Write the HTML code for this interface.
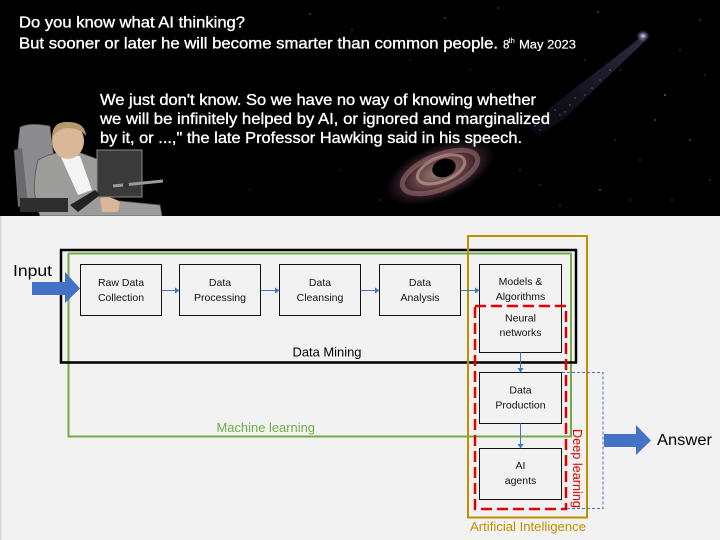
<!DOCTYPE html>
<html><head><meta charset="utf-8"><style>
html,body{margin:0;padding:0;background:#f2f2f2;}
svg{display:block;}
text{font-family:"Liberation Sans",sans-serif;}
</style></head><body>
<svg width="720" height="540" viewBox="0 0 720 540" xmlns="http://www.w3.org/2000/svg">
<defs>
<radialGradient id="glow" cx="50%" cy="50%" r="50%">
<stop offset="0" stop-color="#f0c8c0" stop-opacity="0.9"/>
<stop offset="0.45" stop-color="#c8858a" stop-opacity="0.65"/>
<stop offset="0.8" stop-color="#7a4a66" stop-opacity="0.3"/>
<stop offset="1" stop-color="#30203a" stop-opacity="0"/>
</radialGradient>
<radialGradient id="gal" cx="50%" cy="50%" r="50%">
<stop offset="0" stop-color="#e8e0ff"/>
<stop offset="1" stop-color="#6a5a9a" stop-opacity="0"/>
</radialGradient>
<linearGradient id="streak" x1="1" y1="0" x2="0" y2="1">
<stop offset="0" stop-color="#8a7ab8" stop-opacity="0.35"/>
<stop offset="1" stop-color="#5a4a8a" stop-opacity="0.1"/>
</linearGradient>
</defs>

<!-- top dark panel -->
<rect x="0" y="0" width="720" height="216" fill="#000"/>
<!-- stars -->
<g fill="#fff">
<circle cx="310" cy="14" r="0.7" opacity="0.5"/><circle cx="352" cy="30" r="0.6" opacity="0.4"/>
<circle cx="445" cy="18" r="0.7" opacity="0.5"/><circle cx="498" cy="8" r="0.6" opacity="0.5"/>
<circle cx="598" cy="12" r="0.7" opacity="0.5"/><circle cx="620" cy="70" r="0.6" opacity="0.4"/>
<circle cx="665" cy="95" r="0.8" opacity="0.6"/><circle cx="700" cy="20" r="0.6" opacity="0.5"/>
<circle cx="690" cy="140" r="0.7" opacity="0.5"/><circle cx="640" cy="160" r="0.6" opacity="0.4"/>
<circle cx="600" cy="190" r="0.7" opacity="0.5"/><circle cx="560" cy="205" r="0.6" opacity="0.4"/>
<circle cx="710" cy="180" r="0.6" opacity="0.5"/><circle cx="672" cy="200" r="0.6" opacity="0.4"/>
<circle cx="520" cy="170" r="0.6" opacity="0.4"/><circle cx="380" cy="200" r="0.6" opacity="0.4"/>
<circle cx="340" cy="170" r="0.6" opacity="0.35"/><circle cx="250" cy="190" r="0.6" opacity="0.35"/>
<circle cx="585" cy="60" r="0.6" opacity="0.4"/><circle cx="548" cy="40" r="0.6" opacity="0.4"/>
<circle cx="655" cy="120" r="0.7" opacity="0.5"/><circle cx="705" cy="75" r="0.6" opacity="0.4"/>
<circle cx="410" cy="60" r="0.6" opacity="0.35"/><circle cx="470" cy="70" r="0.6" opacity="0.35"/>
<circle cx="615" cy="140" r="0.6" opacity="0.4"/><circle cx="540" cy="185" r="0.6" opacity="0.4"/>
<circle cx="680" cy="50" r="0.6" opacity="0.4"/><circle cx="630" cy="200" r="0.6" opacity="0.4"/>
</g>
<!-- galaxy streak -->
<polygon points="640,38 646,40 565,118 538,136 530,128 552,106" fill="url(#streak)"/>
<g fill="#c8bfff" opacity="0.6">
<circle cx="610" cy="70" r="0.6"/><circle cx="600" cy="80" r="0.6"/><circle cx="585" cy="95" r="0.6"/><circle cx="570" cy="105" r="0.7"/>
<circle cx="560" cy="115" r="0.6"/><circle cx="548" cy="122" r="0.7"/><circle cx="540" cy="130" r="0.6"/>
<circle cx="555" cy="110" r="0.6"/><circle cx="575" cy="98" r="0.6"/><circle cx="535" cy="126" r="0.6"/>
<circle cx="565" cy="112" r="0.6"/><circle cx="545" cy="118" r="0.6"/><circle cx="592" cy="88" r="0.6"/>
</g>
<ellipse cx="643" cy="36" rx="7" ry="6" fill="url(#gal)"/>
<!-- black hole -->
<g transform="translate(440,172) rotate(-22)">
<ellipse cx="0" cy="0" rx="60" ry="28" fill="url(#glow)" opacity="0.75"/>
<ellipse cx="0" cy="0" rx="40" ry="17" fill="none" stroke="#e0a0a0" stroke-width="5" opacity="0.35"/>
<ellipse cx="2" cy="-2" rx="25" ry="12" fill="none" stroke="#f0c0b8" stroke-width="3" opacity="0.45"/>
</g>
<ellipse cx="444" cy="168" rx="12" ry="9" transform="rotate(-20 444 168)" fill="#000"/>

<!-- Hawking cartoon approximation -->
<g>
<path d="M20,127 Q30,122 50,126 L55,165 L48,205 L22,208 Q14,170 20,127 Z" fill="#8c8c8e" stroke="#444" stroke-width="0.8"/>
<path d="M14,150 L22,148 L28,205 L18,207 Z" fill="#6a6a6c"/>
<path d="M38,160 Q55,150 78,152 L100,160 L110,200 L160,205 L162,216 L40,216 Q30,190 38,160 Z" fill="#9c9c9a" stroke="#555" stroke-width="0.8"/>
<path d="M60,155 L80,156 L92,190 L78,195 Z" fill="#f4f4f4"/>
<ellipse cx="68" cy="141" rx="16" ry="18" fill="#d8b898"/>
<path d="M52,138 Q52,121 68,122 Q85,122 86,136 Q80,128 68,128 Q58,128 52,138 Z" fill="#b89a6a"/>
<rect x="97" y="150" width="45" height="47" fill="#3a3a3a" stroke="#8a8a8a" stroke-width="1"/>
<line x1="113" y1="186" x2="163" y2="181" stroke="#999" stroke-width="3"/>
<circle cx="126" cy="185" r="3" fill="#333"/>
<path d="M100,198 Q110,195 120,202 L118,212 L102,212 Z" fill="#d8b898"/>
<rect x="20" y="198" width="48" height="14" fill="#2e2e2e"/>
<path d="M70,205 L95,190 L100,195 L78,212 Z" fill="#222"/>
</g>

<!-- top texts -->
<g fill="#fff" stroke="#fff" stroke-width="0.35" font-size="16">
<text x="19" y="27.5" textLength="226" lengthAdjust="spacingAndGlyphs">Do you know what AI thinking?</text>
<text x="19" y="48.5" textLength="479" lengthAdjust="spacingAndGlyphs">But sooner or later he will become smarter than common people.</text>
<text x="503" y="48.5" font-size="11.5" stroke-width="0.2">8</text>
<text x="508.5" y="43" font-size="7.5" stroke-width="0.1">th</text>
<text x="519" y="48.5" font-size="11.5" stroke-width="0.2" textLength="57" lengthAdjust="spacingAndGlyphs">May 2023</text>
<text x="100" y="105" textLength="436" lengthAdjust="spacingAndGlyphs">We just don't know. So we have no way of knowing whether</text>
<text x="100" y="124" textLength="450" lengthAdjust="spacingAndGlyphs">we will be infinitely helped by AI, or ignored and marginalized</text>
<text x="100" y="143" textLength="422" lengthAdjust="spacingAndGlyphs">by it, or ...," the late Professor Hawking said in his speech.</text>
</g>

<!-- bottom panel -->
<rect x="0" y="216" width="720" height="324" fill="#f2f2f2"/>
<rect x="0" y="216" width="1.5" height="324" fill="#d6d6d6"/>

<!-- Green machine learning box -->
<rect x="68.5" y="253.5" width="502.5" height="183" fill="none" stroke="#70ad47" stroke-width="2"/>
<!-- Black data mining box -->
<rect x="61" y="250" width="515" height="112.5" fill="none" stroke="#000" stroke-width="2.5"/>
<!-- Gold AI box -->
<rect x="468" y="236" width="119" height="281.5" fill="none" stroke="#bf9000" stroke-width="2"/>

<!-- boxes -->
<g fill="#f2f2f2" stroke="#111" stroke-width="1">
<rect x="80.5" y="264.5" width="81" height="51"/>
<rect x="179.5" y="264.5" width="81" height="51"/>
<rect x="279.5" y="264.5" width="81" height="51"/>
<rect x="379.5" y="264.5" width="81" height="51"/>
<rect x="479.5" y="264.5" width="82" height="88"/>
<rect x="479.5" y="372.5" width="82" height="51"/>
<rect x="479.5" y="448.5" width="82" height="51"/>
</g>

<!-- red dashed deep learning -->
<rect x="475" y="306" width="91" height="203" fill="none" stroke="#e00000" stroke-width="2.5" stroke-dasharray="11 5"/>

<!-- connectors -->
<g stroke="#4472c4" stroke-width="1" fill="none">
<line x1="161.5" y1="290.5" x2="175" y2="290.5"/>
<line x1="260.5" y1="290.5" x2="275" y2="290.5"/>
<line x1="360.5" y1="290.5" x2="375" y2="290.5"/>
<line x1="460.5" y1="290.5" x2="475" y2="290.5"/>
<line x1="520.5" y1="352.5" x2="520.5" y2="368"/>
<line x1="520.5" y1="423.5" x2="520.5" y2="444"/>
<polyline points="562,372.5 603,372.5 603,508.5 566,508.5" stroke-dasharray="3 2"/>
</g>
<g fill="#4472c4">
<polygon points="175,287.5 179.5,290.5 175,293.5"/>
<polygon points="275,287.5 279.5,290.5 275,293.5"/>
<polygon points="375,287.5 379.5,290.5 375,293.5"/>
<polygon points="475,287.5 479.5,290.5 475,293.5"/>
<polygon points="517.5,368 520.5,372.5 523.5,368"/>
<polygon points="517.5,444 520.5,448.5 523.5,444"/>
</g>

<!-- Input / Answer arrows -->
<polygon points="32,282 65,282 65,272 80,288.5 65,303 65,295 32,295" fill="#4472c4"/>
<polygon points="604,434 636,434 636,425 651,440.5 636,455 636,447 604,447" fill="#4472c4"/>

<!-- box labels -->
<g font-size="10.5" fill="#111" text-anchor="middle">
<text x="121" y="286">Raw Data</text><text x="121" y="301">Collection</text>
<text x="220" y="286">Data</text><text x="220" y="301">Processing</text>
<text x="320" y="286">Data</text><text x="320" y="301">Cleansing</text>
<text x="420" y="286">Data</text><text x="420" y="301">Analysis</text>
<text x="520.5" y="285">Models &amp;</text><text x="520.5" y="300">Algorithms</text>
<text x="520.5" y="321.5">Neural</text><text x="520.5" y="336">networks</text>
<text x="520.5" y="393.5">Data</text><text x="520.5" y="408.5">Production</text>
<text x="520.5" y="469">AI</text><text x="520.5" y="484">agents</text>
</g>

<!-- group labels -->
<text x="13" y="276" font-size="15.5" fill="#000" textLength="39" lengthAdjust="spacingAndGlyphs">Input</text>
<text x="657" y="445" font-size="15.5" fill="#000" textLength="55" lengthAdjust="spacingAndGlyphs">Answer</text>
<text x="292.5" y="356.5" font-size="12.5" fill="#000" textLength="69" lengthAdjust="spacingAndGlyphs">Data Mining</text>
<text x="216.5" y="432" font-size="12.5" fill="#70ad47" textLength="98.5" lengthAdjust="spacingAndGlyphs">Machine learning</text>
<text x="470" y="531" font-size="12.5" fill="#bf9000" textLength="116" lengthAdjust="spacingAndGlyphs">Artificial Intelligence</text>
<text transform="translate(573,429) rotate(90)" x="0" y="0" font-size="12.5" fill="#e00000" textLength="79" lengthAdjust="spacingAndGlyphs">Deep learning</text>
</svg>
</body></html>
